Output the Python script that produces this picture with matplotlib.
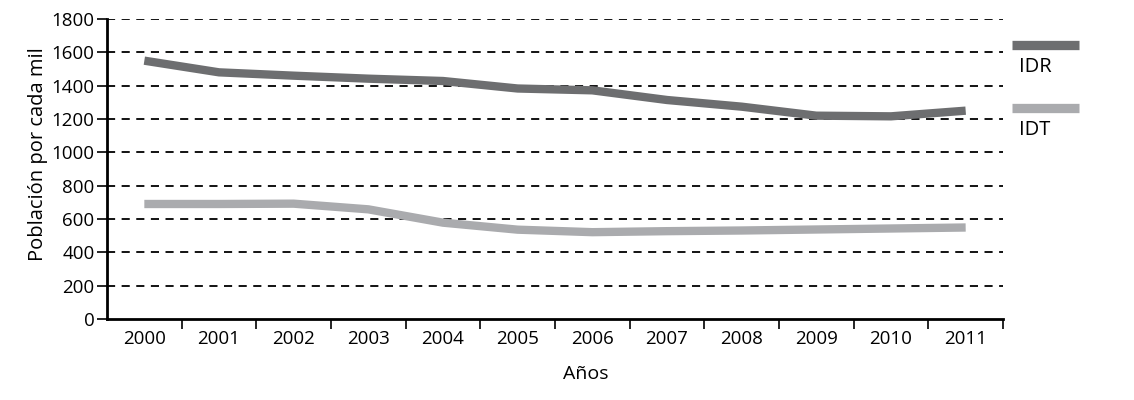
import matplotlib
matplotlib.use("Agg")
import matplotlib.pyplot as plt
from matplotlib.lines import Line2D

years = ["2000", "2001", "2002", "2003", "2004", "2005",
         "2006", "2007", "2008", "2009", "2010", "2011"]
idr = [1550, 1480, 1460, 1442, 1428, 1383, 1372, 1314, 1274, 1220, 1216, 1250]
idt = [690, 690, 692, 658, 578, 536, 521, 527, 531, 537, 543, 549]
series_names = ["IDR", "IDT"]
series_colors = ["#6d6e70", "#aaabae"]
yticks = [0, 200, 400, 600, 800, 1000, 1200, 1400, 1600, 1800]

plt.rcParams['font.family'] = ['Open Sans', 'DejaVu Sans']

fig = plt.figure(figsize=(11.34, 4.0), dpi=100)
ax = fig.add_axes([107/1134, 1-319/400, (1003-107)/1134, 300/400])

x = list(range(len(years)))
for vals, col in zip([idr, idt], series_colors):
    ax.plot(x, vals, color=col, lw=6.0, solid_capstyle='butt', solid_joinstyle='round', zorder=3)

ax.set_xlim(-0.5, len(years) - 0.5)
ax.set_ylim(0, 1800)
ax.set_yticks(yticks)
ax.set_yticklabels([str(v) for v in yticks], fontsize=13.5)
ax.set_xticks(x)
ax.set_xticklabels(years, fontsize=13.5)
ax.set_xticks([i - 0.5 for i in range(1, len(years))] + [len(years) - 0.5], minor=True)
ax.tick_params(axis='x', which='major', length=0, pad=8)
ax.tick_params(axis='x', which='minor', length=7, width=1.2, direction='out')
ax.tick_params(axis='y', length=7, width=1.2, direction='out', pad=2)

for v in yticks[1:]:
    ax.axhline(v, color='black', lw=1.3, ls=(0, (4.5, 3.6)), zorder=1)

for s in ['top', 'right']:
    ax.spines[s].set_visible(False)
for s in ['left', 'bottom']:
    ax.spines[s].set_linewidth(2.0)

ax.set_xlabel("Años", fontsize=14)
ax.xaxis.set_label_coords((586-107)/896, -(374-319)/300)
ax.xaxis.label.set_va('center')
ax.set_ylabel("Población por cada mil", fontsize=14.5)
ax.yaxis.set_label_coords(-(107-38)/896, (319-154)/300)
ax.yaxis.label.set_va('center')

# legend: bar with label beneath
leg_y = [45, 108]
for name, col, yb in zip(series_names, series_colors, leg_y):
    fig.add_artist(Line2D([1012/1134, 1079/1134], [1-yb/400, 1-yb/400],
                          color=col, lw=6.7, solid_capstyle='butt'))
    fig.text(1019/1134, 1-(yb+22)/400, name, fontsize=14.5, va='center', ha='left')

fig.savefig("out.png", dpi=100)
